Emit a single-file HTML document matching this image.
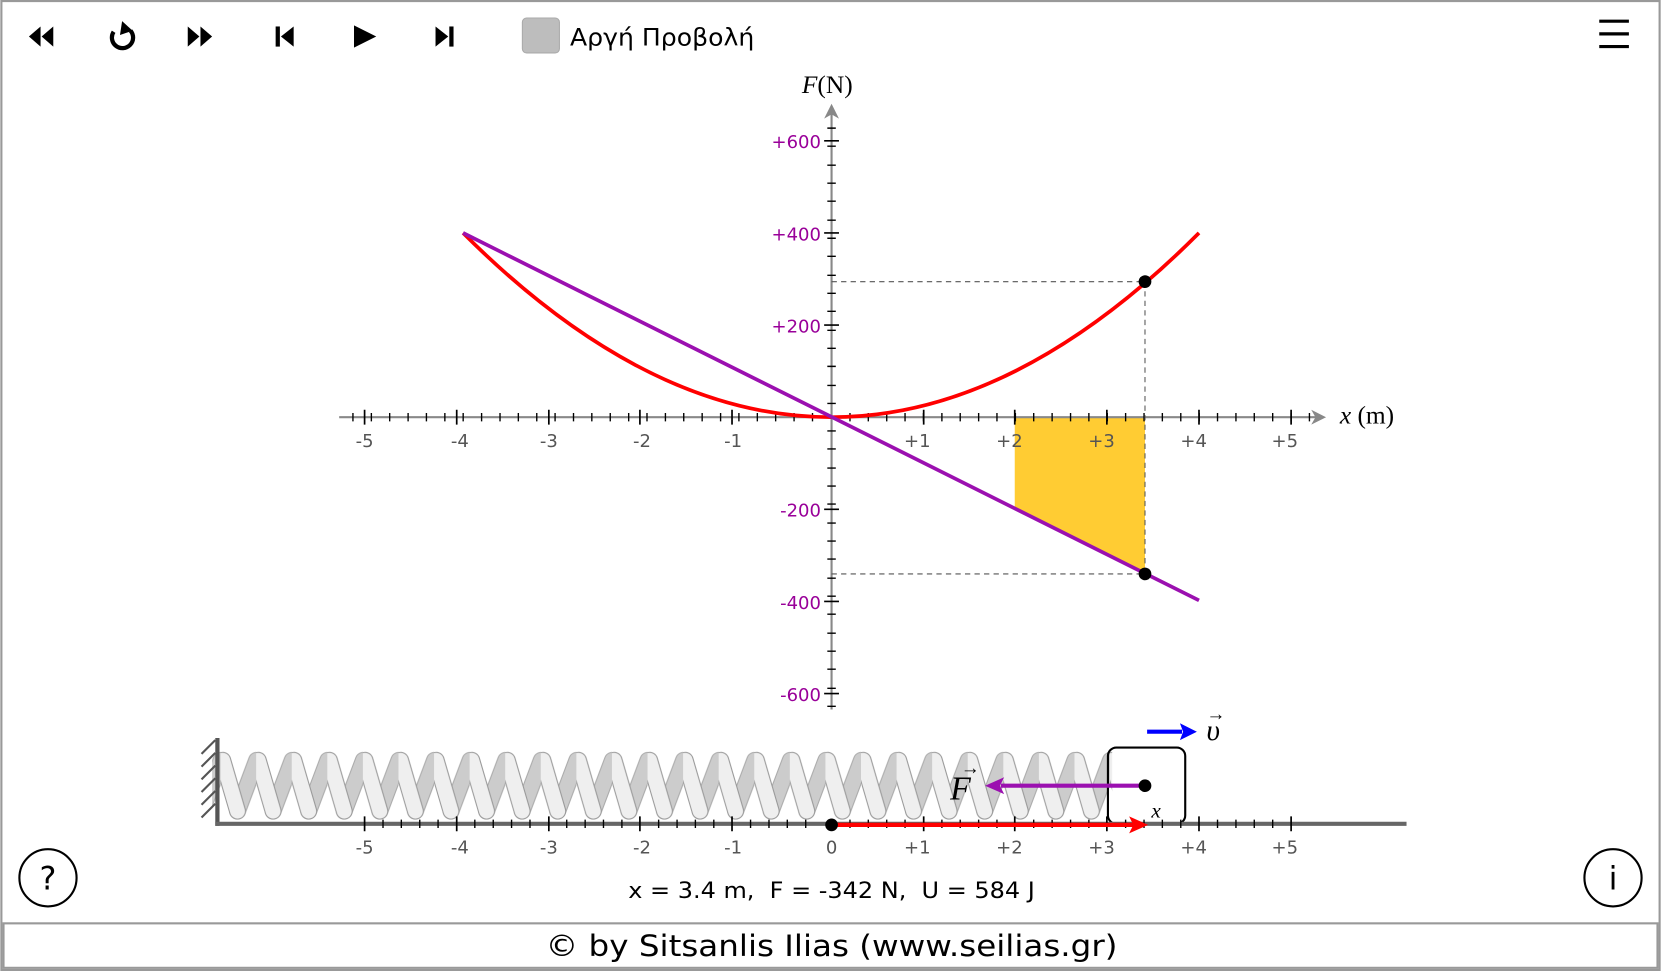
<!DOCTYPE html>
<html><head><meta charset="utf-8"><style>
html,body{margin:0;padding:0;background:#fff;}
svg{display:block}
.s{font-family:"DejaVu Sans","Liberation Sans",sans-serif}
.r{font-family:"Liberation Serif",serif}
</style></head><body>
<svg width="1661" height="971" viewBox="0 0 1568 917" xmlns="http://www.w3.org/2000/svg">
<defs>
<pattern id="coil" patternUnits="userSpaceOnUse" x="208" y="0" width="33.6" height="917">
<line x1="16" y1="766" x2="34" y2="718" stroke="#aaa" stroke-width="16" stroke-linecap="round"/>
<line x1="16" y1="766" x2="34" y2="718" stroke="#ccc" stroke-width="14" stroke-linecap="round"/>
<line x1="-18" y1="766" x2="0" y2="718" stroke="#ccc" stroke-width="14" stroke-linecap="round"/>
<line x1="2" y1="718" x2="16" y2="766" stroke="#999" stroke-width="16" stroke-linecap="round"/>
<line x1="2" y1="718" x2="16" y2="766" stroke="#efefef" stroke-width="14" stroke-linecap="round"/>
</pattern>
</defs>
<rect x="1" y="1" width="1566" height="915" fill="#fff" stroke="#999" stroke-width="2"/>
<g fill="#000">
<polygon points="38,25 38,44 27,34.5"/><polygon points="50,25 50,44 39,34.5"/>
<polygon points="177,25 177,44 188,34.5"/><polygon points="189,25 189,44 200,34.5"/>
<rect x="260" y="25" width="4" height="19"/><polygon points="277,25 277,44 265,34.5"/>
<polygon points="334,24 334,45 355,34.5"/>
<polygon points="411,25 411,44 423,34.5"/><rect x="424" y="25" width="4" height="19"/>
</g>
<path d="M123,29 A10,10 0 1 1 107,30" fill="none" stroke="#000" stroke-width="4"/>
<polygon points="115,20 125,29 113,33" fill="#000"/>
<rect x="493" y="17" width="35" height="33" rx="4" fill="#bdbdbd" stroke="#aaa"/>
<text class="s" x="538" y="43" font-size="23" textLength="174" lengthAdjust="spacingAndGlyphs">Αργή Προβολή</text>
<g stroke="#000" stroke-width="3"><line x1="1510" y1="20" x2="1538" y2="20"/><line x1="1510" y1="32" x2="1538" y2="32"/><line x1="1510" y1="44" x2="1538" y2="44"/></g>
<polygon points="958,394 1081,394 1081,542 958,481" fill="#ffcc33"/>
<g stroke="#888" stroke-width="2">
<line x1="320" y1="394" x2="1245" y2="394"/>
<line x1="785" y1="670" x2="785" y2="105"/>
</g>
<polygon points="1252,394 1238,387 1242,394 1238,401" fill="#888"/>
<polygon points="785,98 778,112 785,108 792,112" fill="#888"/>
<path d="M333,390V398 M350.4,390V398 M367.7,390V398 M385.1,390V398 M402.4,390V398 M419.8,390V398 M437.1,390V398 M454.5,390V398 M471.9,390V398 M489.2,390V398 M506.6,390V398 M523.9,390V398 M541.3,390V398 M558.6,390V398 M576,390V398 M593.4,390V398 M610.7,390V398 M628.1,390V398 M645.4,390V398 M662.8,390V398 M680.2,390V398 M697.5,390V398 M714.9,390V398 M732.2,390V398 M749.6,390V398 M767,390V398 M802.4,390V398 M819.7,390V398 M837.1,390V398 M854.4,390V398 M871.8,390V398 M889.2,390V398 M906.5,390V398 M923.9,390V398 M941.2,390V398 M958.6,390V398 M975.9,390V398 M993.3,390V398 M1010.7,390V398 M1028,390V398 M1045.4,390V398 M1062.7,390V398 M1080.1,390V398 M1097.4,390V398 M1114.8,390V398 M1132.2,390V398 M1149.5,390V398 M1166.9,390V398 M1184.2,390V398 M1201.6,390V398 M1219,390V398 M1236.3,390V398" stroke="#000" stroke-width="1.3"/>
<path d="M344,387V401 M431,387V401 M518,387V401 M604,387V401 M691,387V401 M872,387V401 M958,387V401 M1045,387V401 M1132,387V401 M1219,387V401" stroke="#000" stroke-width="1.6"/>
<path d="M781,667H789 M781,650H789 M781,632H789 M781,615H789 M781,598H789 M781,580H789 M781,563H789 M781,546H789 M781,528H789 M781,511H789 M781,494H789 M781,476H789 M781,459H789 M781,442H789 M781,424H789 M781,407H789 M781,381H789 M781,364H789 M781,346H789 M781,329H789 M781,312H789 M781,294H789 M781,277H789 M781,260H789 M781,242H789 M781,225H789 M781,208H789 M781,190H789 M781,173H789 M781,156H789 M781,138H789 M781,121H789" stroke="#000" stroke-width="1.3"/>
<path d="M778,133H792 M778,220H792 M778,307H792 M778,481H792 M778,568H792 M778,655H792" stroke="#000" stroke-width="1.6"/>
<g class="s" font-size="17" fill="#555" text-anchor="middle">
<text x="344" y="422">-5</text><text x="434" y="422">-4</text><text x="518" y="422">-3</text><text x="606" y="422">-2</text><text x="692" y="422">-1</text>
<text x="866" y="422">+1</text><text x="953" y="422">+2</text><text x="1040" y="422">+3</text><text x="1127" y="422">+4</text><text x="1213" y="422">+5</text>
</g>
<g class="s" font-size="17" fill="#990099" text-anchor="end">
<text x="775" y="140">+600</text><text x="775" y="227">+400</text><text x="775" y="314">+200</text>
<text x="775" y="488">-200</text><text x="775" y="575">-400</text><text x="775" y="662">-600</text>
</g>
<text class="r" x="757" y="88" font-size="24"><tspan font-style="italic">F</tspan>(N)</text>
<text class="r" x="1265" y="400" font-size="24"><tspan font-style="italic">x</tspan> (m)</text>
<g stroke="#555" stroke-width="1" stroke-dasharray="5 4" fill="none">
<line x1="785" y1="266" x2="1081" y2="266"/><line x1="785" y1="542" x2="1081" y2="542"/>
<line x1="1081" y1="266" x2="1081" y2="542"/>
</g>
<path d="M437,220 Q785,568 1132,220" fill="none" stroke="#ff0000" stroke-width="3.5"/>
<line x1="437" y1="220" x2="1132" y2="567" stroke="#9b10b0" stroke-width="3.5"/>
<circle cx="1081" cy="266" r="6" fill="#000"/><circle cx="1081" cy="542" r="6" fill="#000"/>
<rect x="200" y="700" width="850" height="80" fill="url(#coil)"/>
<rect x="1046" y="706" width="73" height="72" rx="8" fill="none" stroke="#000" stroke-width="2"/>
<text class="r" x="1087" y="772" font-size="20" font-style="italic">x</text>
<line x1="205" y1="697" x2="205" y2="780" stroke="#555" stroke-width="4"/>
<path d="M190,712 L203,699 M190,724 L203,711 M190,736 L203,723 M190,748 L203,735 M190,760 L203,747 M190,772 L203,759" stroke="#555" stroke-width="2"/>
<line x1="203" y1="778" x2="1328" y2="778" stroke="#666" stroke-width="4"/>
<path d="M361.4,774V782 M378.7,774V782 M396.1,774V782 M413.4,774V782 M448.1,774V782 M465.5,774V782 M482.8,774V782 M500.2,774V782 M534.9,774V782 M552.3,774V782 M569.6,774V782 M587,774V782 M621.7,774V782 M639.1,774V782 M656.4,774V782 M673.8,774V782 M708.5,774V782 M725.9,774V782 M743.2,774V782 M760.6,774V782 M802.4,774V782 M819.7,774V782 M837.1,774V782 M854.4,774V782 M889.2,774V782 M906.5,774V782 M923.9,774V782 M941.2,774V782 M975.9,774V782 M993.3,774V782 M1010.7,774V782 M1028,774V782 M1062.7,774V782 M1080.1,774V782 M1097.4,774V782 M1114.8,774V782 M1149.5,774V782 M1166.9,774V782 M1184.2,774V782 M1201.6,774V782" stroke="#000" stroke-width="1.3"/>
<path d="M344,771V785 M431,771V785 M518,771V785 M604,771V785 M691,771V785 M872,771V785 M958,771V785 M1045,771V785 M1132,771V785 M1219,771V785" stroke="#000" stroke-width="1.6"/>
<g class="s" font-size="17" fill="#555" text-anchor="middle">
<text x="344" y="806">-5</text><text x="434" y="806">-4</text><text x="518" y="806">-3</text><text x="606" y="806">-2</text><text x="692" y="806">-1</text><text x="785" y="806">0</text>
<text x="866" y="806">+1</text><text x="953" y="806">+2</text><text x="1040" y="806">+3</text><text x="1127" y="806">+4</text><text x="1213" y="806">+5</text>
</g>
<line x1="785" y1="779" x2="1070" y2="779" stroke="#ff0000" stroke-width="4"/>
<polygon points="1084,779 1066,771 1070,779 1066,787" fill="#ff0000"/>
<circle cx="785" cy="779" r="6" fill="#000"/>
<line x1="1081" y1="742" x2="945" y2="742" stroke="#9b10b0" stroke-width="4"/>
<polygon points="930,742 948,734 944,742 948,750" fill="#9b10b0"/>
<circle cx="1081" cy="742" r="6" fill="#000"/>
<text class="r" x="897" y="755" font-size="32" font-style="italic">F</text>
<text class="r" x="907" y="731" font-size="18">→</text>
<line x1="1083" y1="691" x2="1116" y2="691" stroke="#0000ff" stroke-width="4"/>
<polygon points="1130,691 1114,683 1117,691 1114,699" fill="#0000ff"/>
<text class="r" x="1139" y="699" font-size="28" font-style="italic">υ</text>
<text class="r" x="1139" y="680" font-size="18">→</text>
<circle cx="45" cy="829" r="27" fill="none" stroke="#000" stroke-width="2"/>
<text class="s" x="45" y="840" font-size="30" text-anchor="middle">?</text>
<circle cx="1523" cy="829" r="27" fill="none" stroke="#000" stroke-width="2"/>
<text class="s" x="1523" y="840" font-size="30" text-anchor="middle">i</text>
<text class="s" x="593" y="848" font-size="21" textLength="384" lengthAdjust="spacingAndGlyphs" xml:space="preserve">x = 3.4 m,  F = -342 N,  U = 584 J</text>
<rect x="3" y="872" width="1562" height="42" fill="#fff" stroke="#999" stroke-width="2"/>
<text class="s" x="515" y="903" font-size="28" textLength="540" lengthAdjust="spacingAndGlyphs">© by Sitsanlis Ilias (www.seilias.gr)</text>
</svg>
</body></html>
